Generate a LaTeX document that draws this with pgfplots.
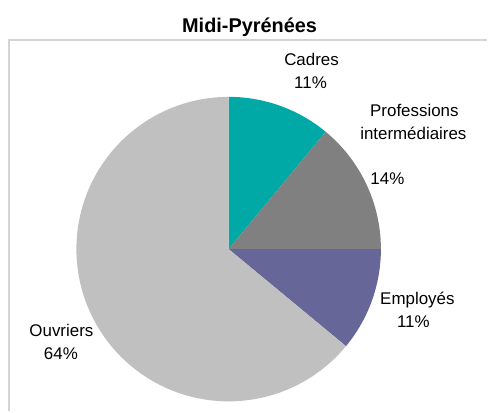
\documentclass[border=0pt]{standalone}
\usepackage{fontspec}
\setmainfont{Liberation Sans}
\usepackage{pgfplots}
\usepackage{pgfplotstable}
\pgfplotsset{compat=1.18}
\definecolor{cad}{HTML}{00A9A6}
\definecolor{pro}{HTML}{808080}
\definecolor{emp}{HTML}{666699}
\definecolor{ouv}{HTML}{C0C0C0}
\definecolor{frame}{HTML}{D4D4D4}
\pgfplotstableread{
cat share
Cadres 11
Professions 14
Employes 11
Ouvriers 64
}\pietable
\begin{document}
\begin{tikzpicture}
\pgfplotstablegetelem{0}{share}\of\pietable \let\sA\pgfplotsretval
\pgfplotstablegetelem{1}{share}\of\pietable \let\sB\pgfplotsretval
\pgfplotstablegetelem{2}{share}\of\pietable \let\sC\pgfplotsretval
\pgfplotstablegetelem{3}{share}\of\pietable \let\sD\pgfplotsretval
\pgfmathsetmacro{\aA}{90}
\pgfmathsetmacro{\aB}{\aA-3.6*\sA}
\pgfmathsetmacro{\aC}{\aB-3.6*\sB}
\pgfmathsetmacro{\aD}{\aC-3.6*\sC}
\pgfmathsetmacro{\aE}{\aD-3.6*\sD}
\begin{axis}[width=488bp,height=412bp,scale only axis,
  xmin=0,xmax=488,ymin=0,ymax=412,hide axis,clip=false]
\path (axis cs:0,0) rectangle (axis cs:488,412);
\draw[frame,line width=1.5pt] (axis cs:8.8,0) -- (axis cs:8.8,372) -- (axis cs:488,372);
\addplot[fill=cad,draw=none,domain=\aB:\aA,samples=30] ({229+152.5*cos(x)},{162.5+152.5*sin(x)}) -- (axis cs:229,162.5) -- cycle;
\addplot[fill=pro,draw=none,domain=\aC:\aB,samples=30] ({229+152.5*cos(x)},{162.5+152.5*sin(x)}) -- (axis cs:229,162.5) -- cycle;
\addplot[fill=emp,draw=none,domain=\aD:\aC,samples=30] ({229+152.5*cos(x)},{162.5+152.5*sin(x)}) -- (axis cs:229,162.5) -- cycle;
\addplot[fill=ouv,draw=none,domain=\aE:\aD,samples=120] ({229+152.5*cos(x)},{162.5+152.5*sin(x)}) -- (axis cs:229,162.5) -- cycle;
\node[anchor=base,font=\bfseries\fontsize{20}{24}\selectfont] at (axis cs:250,379.7) {Midi-Pyrénées};
\begin{scope}[every node/.style={anchor=base,inner sep=0pt,font=\fontsize{17}{20}\selectfont}]
\node at (axis cs:312,346.3) {Cadres};
\node at (axis cs:311,323.7) {11\%};
\node at (axis cs:415,295.3) {Professions};
\node at (axis cs:414,272) {intermédiaires};
\node at (axis cs:388,227) {14\%};
\node at (axis cs:418,107) {Employés};
\node at (axis cs:414,83.7) {11\%};
\node at (axis cs:61.5,75.3) {Ouvriers};
\node at (axis cs:61,52) {64\%};
\end{scope}
\end{axis}
\end{tikzpicture}
\end{document}
